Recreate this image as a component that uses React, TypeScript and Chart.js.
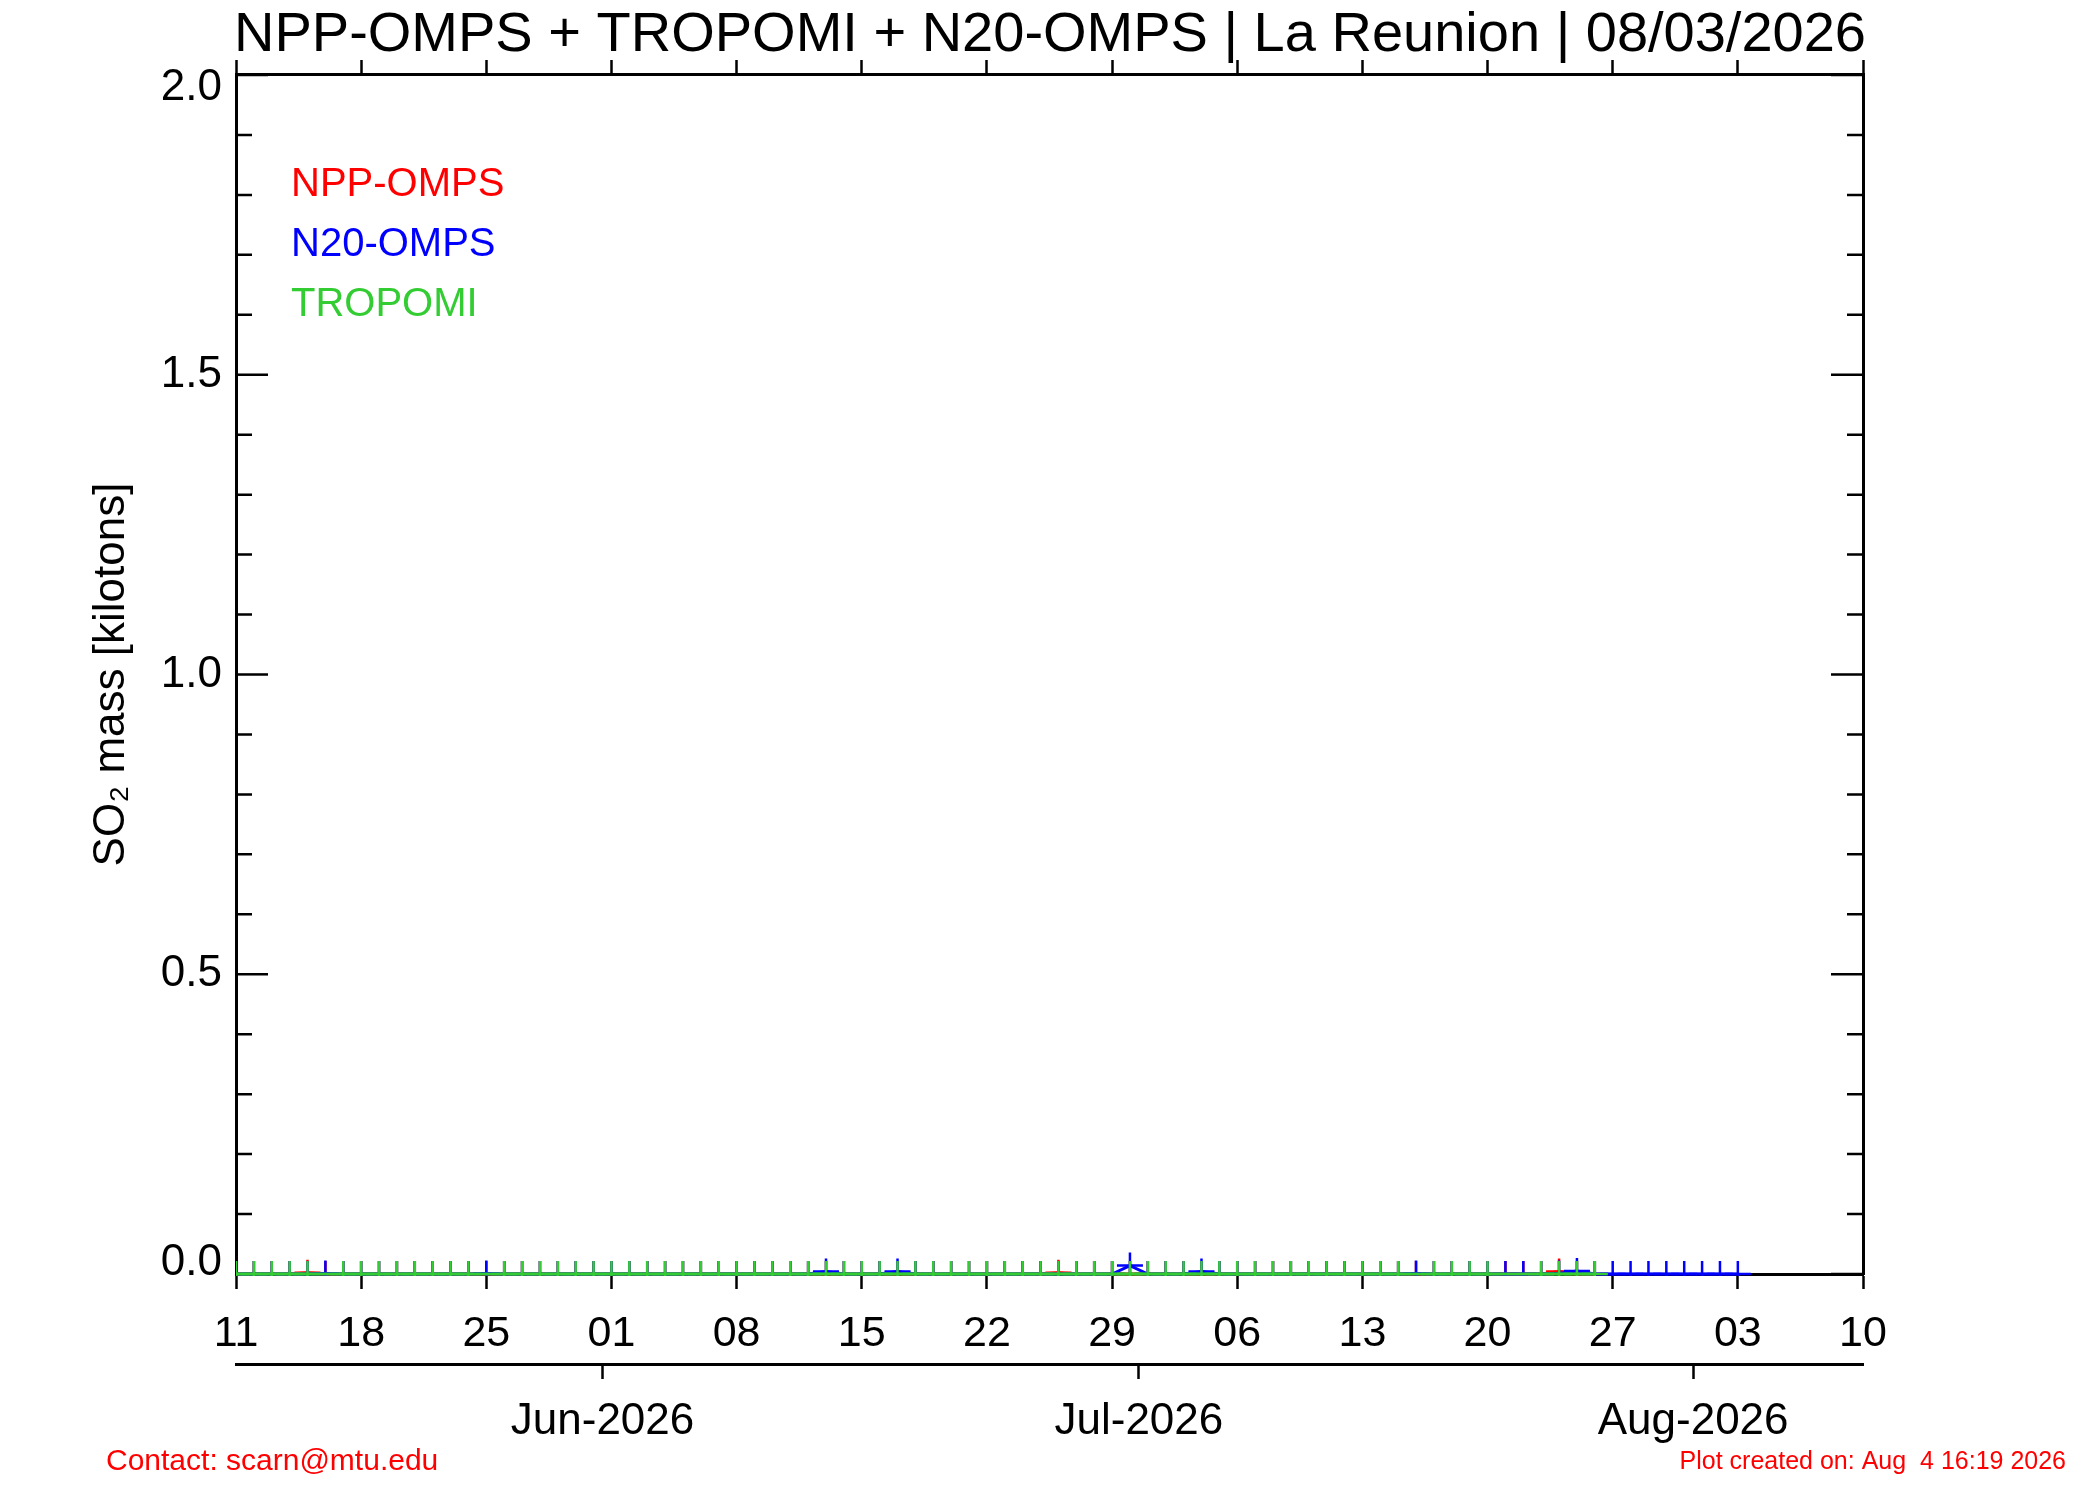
import React, { useEffect, useRef } from 'react';
import { Chart, registerables } from 'chart.js';

Chart.register(...registerables);

const FONT = "'Liberation Sans', Arial, Helvetica, sans-serif";
const YEAR = 2026;
const AXIS_START = '05-11';
const AXIS_END = '08-10';

const TITLE = 'NPP-OMPS + TROPOMI + N20-OMPS | La Reunion | 08/03/2026';
const Y_TITLE = 'SO\u2082 mass [kilotons]';
const CONTACT = 'Contact: scarn@mtu.edu';
const CREATED = 'Plot created on: Aug  4 16:19 2026';

// axis ticks
const weekTickDates = ['05-11', '05-18', '05-25', '06-01', '06-08', '06-15', '06-22', '06-29', '07-06', '07-13', '07-20', '07-27', '08-03', '08-10'];
const weekTickLabels = ['11', '18', '25', '01', '08', '15', '22', '29', '06', '13', '20', '27', '03', '10'];
const monthTickDates = ['06-01', '07-01', '08-01'];
const monthTickLabels = ['Jun-2026', 'Jul-2026', 'Aug-2026'];
const yMajorValues = [0, 0.5, 1.0, 1.5, 2.0];
const yMajorLabels = ['0.0', '0.5', '1.0', '1.5', '2.0'];
const yMinorValues = [0.1, 0.2, 0.3, 0.4, 0.6, 0.7, 0.8, 0.9, 1.1, 1.2, 1.3, 1.4, 1.6, 1.7, 1.8, 1.9];

// NPP-OMPS
const nppDates = [
  '05-11', '05-12', '05-13', '05-14', '05-15', '05-16', '05-17', '05-18', '05-19', '05-20', '05-21',
  '05-22', '05-23', '05-24', '05-25', '05-26', '05-27', '05-28', '05-29', '05-30', '05-31',
  '06-01', '06-02', '06-03', '06-04', '06-05', '06-06', '06-07', '06-08', '06-09', '06-10',
  '06-11', '06-12', '06-13', '06-14', '06-15', '06-16', '06-17', '06-18', '06-19', '06-20',
  '06-21', '06-22', '06-23', '06-24', '06-25', '06-26', '06-27', '06-28', '06-29', '06-30',
  '07-01', '07-02', '07-03', '07-04', '07-05', '07-06', '07-07', '07-08', '07-09', '07-10',
  '07-11', '07-12', '07-13', '07-14', '07-15', '07-16', '07-17', '07-18', '07-19', '07-20',
  '07-21', '07-22', '07-23', '07-24', '07-25', '07-26',
];
const nppValues = [
  0, 0, 0, 0, 0.002, 0, 0, 0, 0, 0, 0,
  0, 0, 0, 0, 0, 0, 0, 0, 0, 0,
  0, 0, 0, 0, 0, 0, 0, 0, 0, 0,
  0, 0, 0, 0, 0, 0, 0, 0, 0, 0,
  0, 0, 0, 0, 0, 0.002, 0, 0, 0, 0,
  0, 0, 0, 0, 0, 0, 0, 0, 0, 0,
  0, 0, 0, 0, 0, 0, 0, 0, 0, 0,
  0, 0, 0, 0.004, 0, 0,
];

// N20-OMPS
const n20Dates = [
  '05-11', '05-12', '05-13', '05-14', '05-15', '05-16', '05-17', '05-18', '05-19', '05-20', '05-21',
  '05-22', '05-23', '05-24', '05-25', '05-26', '05-27', '05-28', '05-29', '05-30', '05-31',
  '06-01', '06-02', '06-03', '06-04', '06-05', '06-06', '06-07', '06-08', '06-09', '06-10',
  '06-11', '06-12', '06-13', '06-14', '06-15', '06-16', '06-17', '06-18', '06-19', '06-20',
  '06-21', '06-22', '06-23', '06-24', '06-25', '06-26', '06-27', '06-28', '06-29', '06-30',
  '07-01', '07-02', '07-03', '07-04', '07-05', '07-06', '07-07', '07-08', '07-09', '07-10',
  '07-11', '07-12', '07-13', '07-14', '07-15', '07-16', '07-17', '07-18', '07-19', '07-20',
  '07-21', '07-22', '07-23', '07-24', '07-25', '07-26', '07-27', '07-28', '07-29', '07-30',
  '07-31', '08-01', '08-02', '08-03',
];
const n20Values = [
  0, 0, 0, 0, 0, 0.001, 0, 0, 0, 0, 0,
  0, 0, 0, 0.001, 0, 0, 0, 0, 0, 0,
  0, 0, 0, 0, 0, 0, 0, 0, 0, 0,
  0, 0, 0.004, 0, 0, 0, 0.004, 0, 0, 0,
  0, 0, 0, 0, 0, 0, 0, 0, 0, 0.014,
  0, 0, 0, 0.004, 0, 0, 0, 0, 0, 0,
  0, 0, 0, 0, 0, 0.001, 0, 0, 0, 0,
  0, 0, 0, 0.001, 0.005, 0, 0, 0, 0, 0,
  0, 0, 0, 0,
];

// TROPOMI
const tropomiDates = [
  '05-11', '05-12', '05-13', '05-14', '05-15', '05-17', '05-18', '05-19', '05-20', '05-21',
  '05-22', '05-23', '05-24', '05-26', '05-27', '05-28', '05-29', '05-30', '05-31',
  '06-01', '06-02', '06-03', '06-04', '06-05', '06-06', '06-07', '06-08', '06-09', '06-10',
  '06-11', '06-12', '06-13', '06-14', '06-15', '06-16', '06-17', '06-18', '06-19', '06-20',
  '06-21', '06-22', '06-23', '06-24', '06-25', '06-26', '06-27', '06-28', '06-29', '06-30',
  '07-01', '07-02', '07-03', '07-04', '07-05', '07-06', '07-07', '07-08', '07-09', '07-10',
  '07-11', '07-12', '07-13', '07-14', '07-15', '07-17', '07-18', '07-19', '07-20',
  '07-23', '07-24', '07-25', '07-26',
];
const tropomiValues = [
  0, 0, 0, 0, 0, 0, 0, 0, 0, 0,
  0, 0, 0, 0, 0, 0, 0, 0, 0,
  0, 0, 0, 0, 0, 0, 0, 0, 0, 0,
  0, 0, 0, 0, 0, 0, 0, 0, 0, 0,
  0, 0, 0, 0, 0, 0, 0, 0, 0, 0,
  0, 0, 0, 0, 0, 0, 0, 0, 0, 0,
  0, 0, 0, 0, 0, 0, 0, 0, 0,
  0, 0, 0, 0,
];

const RED = '#FF0000';
const BLUE = '#0000FF';
const GREEN = '#33CC33';

const dayOf = (md: string) => {
  const [m, d] = md.split('-').map(Number);
  const [m0, d0] = AXIS_START.split('-').map(Number);
  return (Date.UTC(YEAR, m - 1, d) - Date.UTC(YEAR, m0 - 1, d0)) / 86400000;
};

const X_MIN = dayOf(AXIS_START);
const X_MAX = dayOf(AXIS_END);

const makeSeries = (label: string, dates: string[], values: number[], color: string, order: number) => ({
  label,
  data: dates.map((d, i) => ({ x: dayOf(d), y: values[i] })),
  borderColor: color,
  backgroundColor: color,
  pointBorderColor: color,
  pointBackgroundColor: color,
  borderWidth: 3,
  pointStyle: 'cross',
  pointRadius: 13,
  pointHoverRadius: 13,
  pointBorderWidth: 2.5,
  tension: 0,
  fill: false,
  order,
  clip: { left: 0, top: 0, right: 0, bottom: 2 },
});

const decorPlugin = {
  id: 'idlDecor',
  beforeDatasetsDraw(chart: any) {
    const { ctx, chartArea: ca, scales } = chart;
    const y = scales.y;
    ctx.save();
    ctx.strokeStyle = '#000';
    ctx.lineWidth = 2.5;
    y.ticks.forEach((t: any) => {
      const py = y.getPixelForValue(t.value);
      const len = yMajorValues.includes(t.value) ? 32 : 16;
      ctx.beginPath();
      ctx.moveTo(ca.left, py);
      ctx.lineTo(ca.left + len, py);
      ctx.moveTo(ca.right, py);
      ctx.lineTo(ca.right - len, py);
      ctx.stroke();
    });
    ctx.restore();
  },
  afterDraw(chart: any) {
    const { ctx, chartArea: ca } = chart;
    ctx.save();
    // legend (coloured labels inside the plot)
    ctx.font = `40px ${FONT}`;
    ctx.textAlign = 'left';
    ctx.textBaseline = 'alphabetic';
    chart.data.datasets.forEach((ds: any, i: number) => {
      ctx.fillStyle = ds.borderColor;
      ctx.fillText(ds.label, ca.left + 55, ca.top + 121 + i * 60);
    });
    // footer notes
    ctx.fillStyle = RED;
    ctx.textBaseline = 'middle';
    ctx.font = `30px ${FONT}`;
    ctx.fillText(CONTACT, 106, 1462);
    ctx.font = `25px ${FONT}`;
    ctx.textAlign = 'right';
    ctx.fillText(CREATED, 2066, 1462);
    ctx.restore();
  },
};

export default function App() {
  const ref = useRef<HTMLCanvasElement | null>(null);

  useEffect(() => {
    if (!ref.current) return;
    Chart.defaults.font.family = FONT;
    Chart.defaults.color = '#000';

    const weekTicks = weekTickDates.map((d) => ({ value: dayOf(d) }));
    const monthTicks = monthTickDates.map((d) => ({ value: dayOf(d) - 0.5 }));
    const yTicks = [...yMajorValues, ...yMinorValues].sort((a, b) => a - b).map((v) => ({ value: v }));

    const chart = new Chart(ref.current, {
      type: 'line',
      data: {
        datasets: [
          makeSeries('NPP-OMPS', nppDates, nppValues, RED, 2),
          makeSeries('N20-OMPS', n20Dates, n20Values, BLUE, 1),
          makeSeries('TROPOMI', tropomiDates, tropomiValues, GREEN, 0),
        ] as any,
      },
      options: {
        responsive: false,
        animation: false,
        devicePixelRatio: 1,
        events: [],
        layout: { padding: 0 },
        plugins: {
          legend: { display: false },
          tooltip: { enabled: false },
          title: {
            display: true,
            text: TITLE,
            color: '#000',
            font: { family: FONT, size: 56, weight: 'normal', lineHeight: 1.15 },
            padding: { top: 3, bottom: 0 },
          },
        },
        scales: {
          x: {
            type: 'linear',
            position: 'bottom',
            weight: 0,
            min: X_MIN,
            max: X_MAX,
            afterBuildTicks: (s: any) => { s.ticks = weekTicks.map((t) => ({ ...t })); },
            afterFit: (s: any) => { s.height = 90; },
            ticks: {
              autoSkip: false,
              maxRotation: 0,
              padding: 19,
              color: '#000',
              font: { family: FONT, size: 43 },
              callback: (_v: any, i: number) => weekTickLabels[i],
            },
            grid: { display: true, drawOnChartArea: false, drawTicks: true, tickLength: 15, tickWidth: 2.5, color: '#000', tickColor: '#000' },
            border: { display: true, width: 3, color: '#000' },
          },
          x2: {
            type: 'linear',
            position: 'bottom',
            weight: 1,
            min: X_MIN,
            max: X_MAX,
            afterBuildTicks: (s: any) => { s.ticks = monthTicks.map((t) => ({ ...t })); },
            afterFit: (s: any) => { s.height = 136; },
            ticks: {
              autoSkip: false,
              maxRotation: 0,
              padding: 16,
              color: '#000',
              font: { family: FONT, size: 44 },
              callback: (_v: any, i: number) => monthTickLabels[i],
            },
            grid: { display: true, drawOnChartArea: false, drawTicks: true, tickLength: 15, tickWidth: 2.5, color: '#000', tickColor: '#000' },
            border: { display: true, width: 3, color: '#000' },
          },
          xTop: {
            type: 'linear',
            position: 'top',
            weight: 0,
            min: X_MIN,
            max: X_MAX,
            afterBuildTicks: (s: any) => { s.ticks = weekTicks.map((t) => ({ ...t })); },
            afterFit: (s: any) => { s.height = 7.6; },
            ticks: { display: false },
            grid: { display: true, drawOnChartArea: false, drawTicks: true, tickLength: 15, tickWidth: 2.5, color: '#000', tickColor: '#000' },
            border: { display: true, width: 3, color: '#000' },
          },
          y: {
            type: 'linear',
            position: 'left',
            min: 0,
            max: 2,
            afterBuildTicks: (s: any) => { s.ticks = yTicks.map((t) => ({ ...t })); },
            afterFit: (s: any) => { s.width = 236; },
            ticks: {
              autoSkip: false,
              padding: 14,
              color: '#000',
              font: (c: any) => {
                const v = c.tick ? c.tick.value : null;
                if (v === 2) return { family: FONT, size: 44, lineHeight: '26px' };
                if (v === 0) return { family: FONT, size: 44, lineHeight: '22px' };
                return { family: FONT, size: 44 };
              },
              callback: (v: any) => {
                const k = yMajorValues.indexOf(v);
                if (k < 0) return '';
                if (v === 2) return ['', yMajorLabels[k]];
                if (v === 0) return [yMajorLabels[k], ''];
                return yMajorLabels[k];
              },
            },
            title: {
              display: true,
              text: Y_TITLE,
              color: '#000',
              font: { family: FONT, size: 44 },
              padding: { top: 85, bottom: 0 },
            },
            grid: { display: true, drawOnChartArea: false, drawTicks: false, color: '#000' },
            border: { display: true, width: 3, color: '#000' },
          },
          yRight: {
            type: 'linear',
            position: 'right',
            min: 0,
            max: 2,
            afterFit: (s: any) => { s.width = 237; },
            ticks: { display: false },
            grid: { display: true, drawOnChartArea: false, drawTicks: false, color: '#000' },
            border: { display: true, width: 3, color: '#000' },
          },
        },
      } as any,
      plugins: [decorPlugin],
    });

    return () => chart.destroy();
  }, []);

  return (
    <div style={{ position: 'absolute', left: 0, top: 0, width: 2100, height: 1500, background: '#fff' }}>
      <canvas ref={ref} width={2100} height={1500} style={{ display: 'block', width: 2100, height: 1500 }} />
    </div>
  );
}
